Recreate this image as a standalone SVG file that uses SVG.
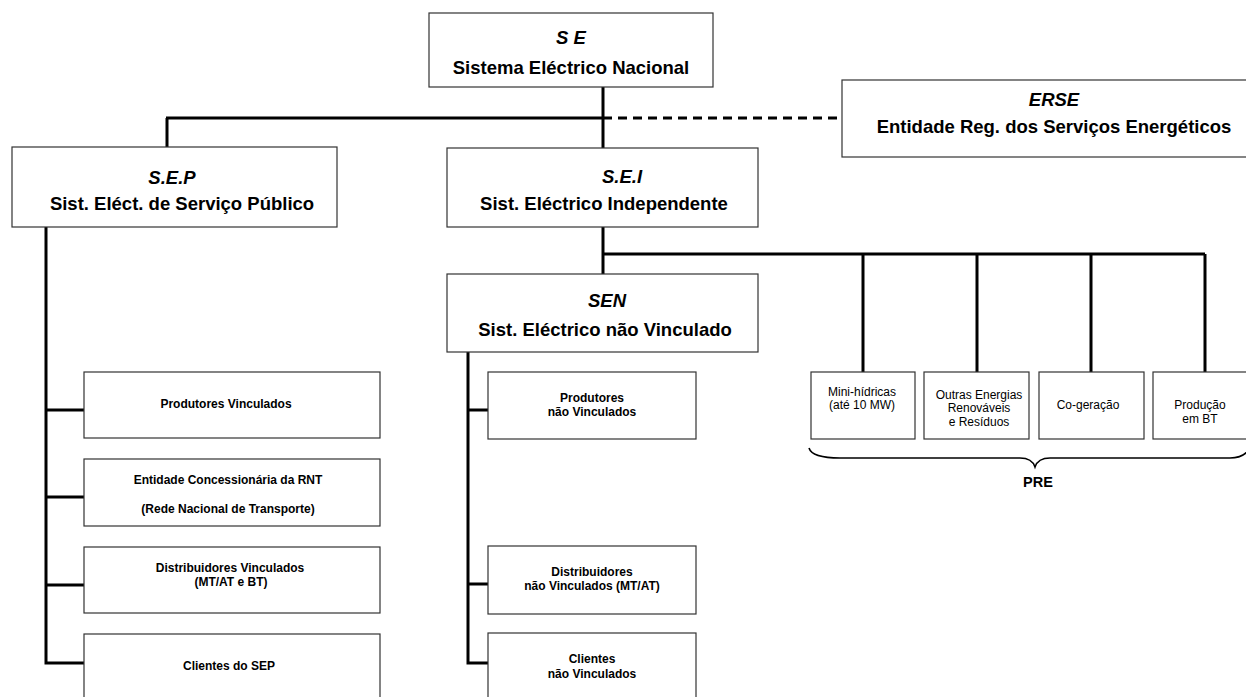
<svg xmlns="http://www.w3.org/2000/svg" width="1246" height="697" viewBox="0 0 1246 697">
<style>
.box{fill:#fff;stroke:#333;stroke-width:1.2}
.ln{fill:none;stroke:#000;stroke-width:3}
.dash{fill:none;stroke:#000;stroke-width:3;stroke-dasharray:9 6}
text{font-family:"Liberation Sans",Arial,sans-serif;fill:#000;text-anchor:middle}
.big{font-size:18.5px;font-weight:bold}
.bi{font-size:18.5px;font-weight:bold;font-style:italic}
.sm{font-size:12px;font-weight:bold}
.rg{font-size:12px}
.pre{font-size:14.5px;font-weight:bold}
</style>
<rect width="1246" height="697" fill="#fff"/>
<g id="connectors">
<path class="ln" d="M603,87 V148 M166,118 H603 M167,118 V147"/>
<path class="dash" d="M603,118 H842"/>
<path class="ln" d="M603,227 V274 M602,254 H1205 M863,254 V372 M977,254 V372 M1091,254 V372 M1205,254 V372"/>
<path class="ln" d="M46,227 V663 H84 M46,410 H84 M46,497 H84 M46,585 H84"/>
<path class="ln" d="M468,352 V663 H488 M468,410 H488 M468,584 H488"/>
<path fill="none" stroke="#000" stroke-width="1.6" d="M809,448 Q812,458 840,458 H1020 Q1032,458 1035,467 Q1038,458 1050,458 H1230 Q1244,458 1250,448"/>
</g>
<g id="se"><rect class="box" x="429" y="13" width="284" height="74"/><text class="bi" x="571" y="44">S E</text><text class="big" x="571" y="74">Sistema Eléctrico Nacional</text></g>
<g id="erse"><rect class="box" x="842" y="80" width="410" height="77"/><text class="bi" x="1054" y="106">ERSE</text><text class="big" x="1054" y="133">Entidade Reg. dos Serviços Energéticos</text></g>
<g id="sep"><rect class="box" x="12" y="147" width="325" height="80"/><text class="bi" x="172" y="184">S.E.P</text><text class="big" x="182" y="210">Sist. Eléct. de Serviço Público</text></g>
<g id="sei"><rect class="box" x="447" y="148" width="311" height="79"/><text class="bi" x="622" y="183">S.E.I</text><text class="big" x="604" y="210">Sist. Eléctrico Independente</text></g>
<g id="sen"><rect class="box" x="447" y="274" width="311" height="78"/><text class="bi" x="607" y="307">SEN</text><text class="big" x="605" y="336">Sist. Eléctrico não Vinculado</text></g>
<g id="prod-vinc"><rect class="box" x="84" y="372" width="296" height="66"/><text class="sm" x="226" y="408">Produtores Vinculados</text></g>
<g id="rnt"><rect class="box" x="84" y="459" width="296" height="67"/><text class="sm" x="228" y="484">Entidade Concessionária da RNT</text><text class="sm" x="228" y="513">(Rede Nacional de Transporte)</text></g>
<g id="dist-vinc"><rect class="box" x="84" y="547" width="296" height="66"/><text class="sm" x="230" y="572">Distribuidores Vinculados</text><text class="sm" x="231" y="586">(MT/AT e BT)</text></g>
<g id="clientes-sep"><rect class="box" x="84" y="634" width="296" height="70"/><text class="sm" x="229" y="670">Clientes do SEP</text></g>
<g id="prod-nvinc"><rect class="box" x="488" y="372" width="208" height="67"/><text class="sm" x="592" y="402">Produtores</text><text class="sm" x="592" y="416">não Vinculados</text></g>
<g id="dist-nvinc"><rect class="box" x="488" y="546" width="208" height="68"/><text class="sm" x="592" y="576">Distribuidores</text><text class="sm" x="592" y="590">não Vinculados (MT/AT)</text></g>
<g id="clientes-nvinc"><rect class="box" x="488" y="633" width="208" height="70"/><text class="sm" x="592" y="663">Clientes</text><text class="sm" x="592" y="678">não Vinculados</text></g>
<g id="mini"><rect class="box" x="811" y="372" width="104" height="67"/><text class="rg" x="862" y="396">Mini-hídricas</text><text class="rg" x="862" y="409">(até 10 MW)</text></g>
<g id="outras"><rect class="box" x="924" y="372" width="105" height="67"/><text class="rg" x="979" y="399">Outras Energias</text><text class="rg" x="979" y="412">Renováveis</text><text class="rg" x="979" y="426">e Resíduos</text></g>
<g id="cogeracao"><rect class="box" x="1039" y="372" width="105" height="67"/><text class="rg" x="1088" y="409">Co-geração</text></g>
<g id="bt"><rect class="box" x="1153" y="372" width="100" height="67"/><text class="rg" x="1200" y="409">Produção</text><text class="rg" x="1200" y="423">em BT</text></g>
<g id="pre"><text class="pre" x="1038" y="487">PRE</text></g>
</svg>
